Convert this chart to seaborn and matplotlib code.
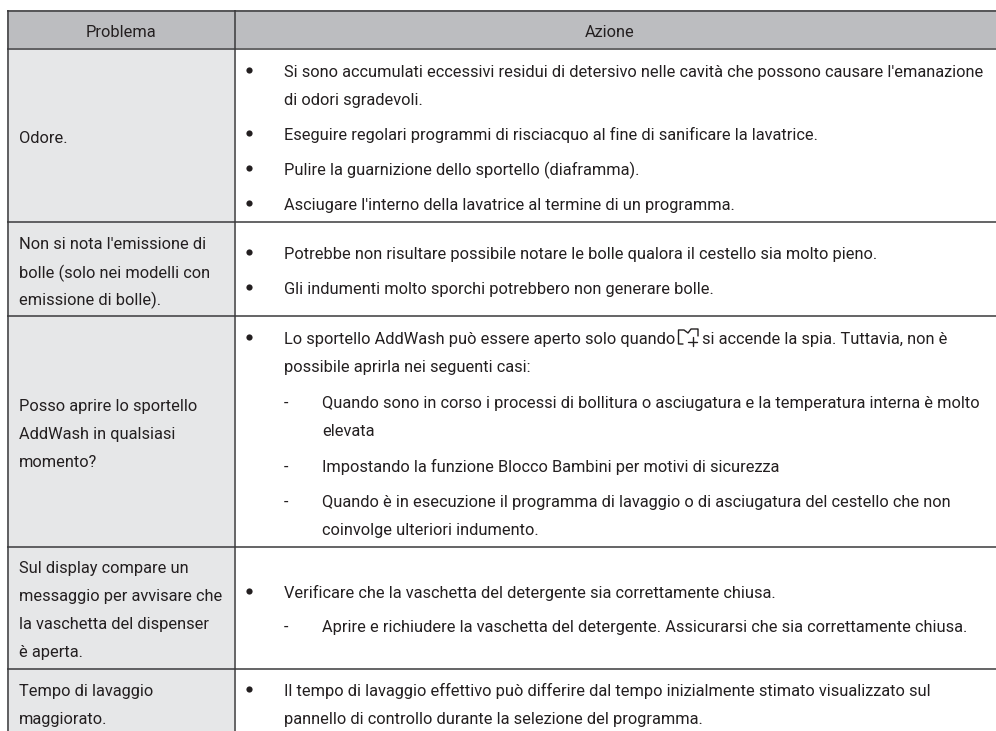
import numpy as np
import matplotlib
matplotlib.use('Agg')
import matplotlib.pyplot as plt
from matplotlib.colors import ListedColormap
import pandas as pd
import seaborn as sns

sns.set_theme(style='white')
plt.rcParams['font.family'] = ['Roboto', 'DejaVu Sans']

W, H = 996, 731
headers = ['Problema', 'Azione']
# left column: text and baseline
problem_text = ['Odore.', "Non si nota l'emissione di", 'bolle (solo nei modelli con',
                'emissione di bolle).', 'Posso aprire lo sportello', 'AddWash in qualsiasi',
                'momento?', 'Sul display compare un', 'messaggio per avvisare che',
                'la vaschetta del dispenser', 'è aperta.', 'Tempo di lavaggio', 'maggiorato.']
problem_y = [143, 249, 278, 305, 411, 439, 467, 573, 601, 629, 657, 696, 724]
# right column: b = bullet line, c = its continuation, d = dash line, e = its continuation
action_kind = ['b', 'c', 'b', 'b', 'b', 'b', 'b', 'c', 'd', 'e', 'd', 'd', 'e', 'b', 'd', 'b', 'c']
action_text = ["Si sono accumulati eccessivi residui di detersivo nelle cavità che possono causare l'emanazione",
               'di odori sgradevoli.',
               'Eseguire regolari programmi di risciacquo al fine di sanificare la lavatrice.',
               'Pulire la guarnizione dello sportello (diaframma).',
               "Asciugare l'interno della lavatrice al termine di un programma.",
               'Potrebbe non risultare possibile notare le bolle qualora il cestello sia molto pieno.',
               'Gli indumenti molto sporchi potrebbero non generare bolle.',
               'possibile aprirla nei seguenti casi:',
               'Quando sono in corso i processi di bollitura o asciugatura e la temperatura interna è molto',
               'elevata',
               'Impostando la funzione Blocco Bambini per motivi di sicurezza',
               'Quando è in esecuzione il programma di lavaggio o di asciugatura del cestello che non',
               'coinvolge ulteriori indumento.',
               'Verificare che la vaschetta del detergente sia correttamente chiusa.',
               'Aprire e richiudere la vaschetta del detergente. Assicurarsi che sia correttamente chiusa.',
               'Il tempo di lavaggio effettivo può differire dal tempo inizialmente stimato visualizzato sul',
               'pannello di controllo durante la selezione del programma.']
action_y = [77, 105, 140, 175, 210, 259, 294, 372, 408, 436, 472, 507, 535, 598, 632, 696, 724]
# this line has the door icon in the middle of it
icon_left = 'Lo sportello AddWash può essere aperto solo quando'
icon_right = 'si accende la spia. Tuttavia, non è'
icon_base = 344
icon_bullet_y = 337
row_edges = [10, 48, 221, 315, 546, 668]
col_edges = [7, 234]

# background cells as a pixel grid: 0 white, 1 header, 2 first column
grid = np.zeros((H, W), dtype=int)
grid[row_edges[0]:row_edges[1], col_edges[0]:] = 1
grid[row_edges[1]:, col_edges[0]:col_edges[1]] = 2

fig = plt.figure(figsize=(W / 100, H / 100), dpi=100)
ax = fig.add_axes([0, 0, 1, 1])
sns.heatmap(grid, ax=ax, cbar=False, vmin=0, vmax=2,
            cmap=ListedColormap(['#ffffff', '#bcbdc0', '#e6e7e8']),
            xticklabels=False, yticklabels=False)

line = '#3a3a3c'
ax.hlines([y + .5 for y in row_edges], col_edges[0], W, color=line, lw=1.1)
ax.vlines([x + .5 for x in col_edges], row_edges[0], H, color=line, lw=1.1)

fs = 11.8
tc = '#231f20'
ax.text(120.5, 37, headers[0], ha='center', va='baseline', fontsize=fs, color=tc)
ax.text(610, 37, headers[1], ha='center', va='baseline', fontsize=fs, color=tc)
for t, y in zip(problem_text, problem_y):
    ax.text(19, y, t, va='baseline', fontsize=fs, color=tc)
for kind, t, y in zip(action_kind, action_text, action_y):
    if kind == 'd':
        ax.text(284, y, '-', va='baseline', fontsize=fs, color=tc)
    x = 283.5 if kind in 'bc' else 322
    ax.text(x, y, t, va='baseline', fontsize=fs, color=tc)
ax.text(283.5, icon_base, icon_left, va='baseline', fontsize=fs, color=tc)
ax.text(702, icon_base, icon_right, va='baseline', fontsize=fs, color=tc)

# bullets
bullets = pd.DataFrame({
    'x': 249,
    'y': [y - 7 for k, y in zip(action_kind, action_y) if k == 'b'] + [icon_bullet_y],
})
sns.scatterplot(data=bullets, x='x', y='y', ax=ax, s=20, color=tc, linewidth=0)

# door + plus icon
ax.plot([683, 678.5, 678.5, 684, 688, 691, 698, 698], [344, 344, 330, 330, 333, 329, 329, 336], color=tc, lw=1)
ax.plot([688, 697], [341.5, 341.5], color=tc, lw=1)
ax.plot([692.5, 692.5], [337, 346], color=tc, lw=1)

ax.set(xlabel='', ylabel='')
fig.savefig('out.png', dpi=100)
